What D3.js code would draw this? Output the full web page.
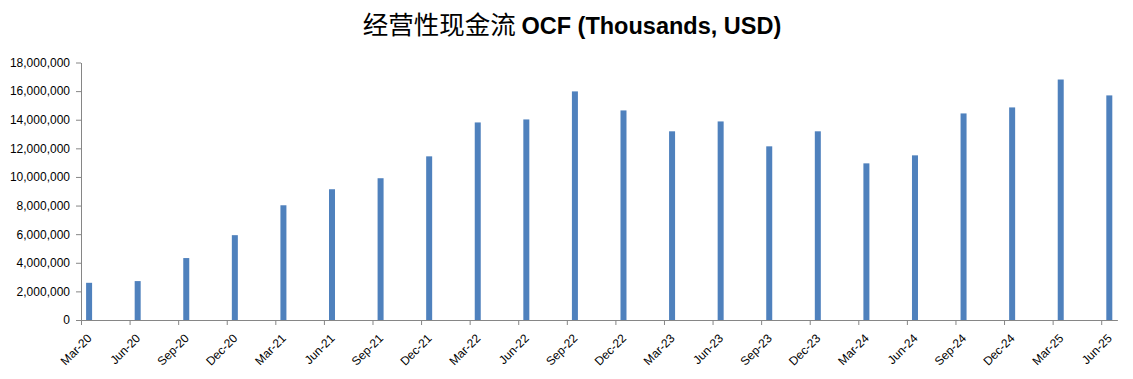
<!DOCTYPE html>
<html>
<head>
<meta charset="utf-8">
<script src="https://cdn.jsdelivr.net/npm/d3@7"></script>
<style>
  html, body { margin: 0; padding: 0; background: #fff; }
  svg { display: block; }
  .axis text { font-family: "Liberation Sans", Arial, sans-serif; font-size: 12px; fill: #000; }
  .axis path, .axis line { stroke: #868686; }
</style>
</head>
<body>
<svg id="chart" width="1133" height="379"></svg>
<script>
// quarter-end labels shown on the date axis
const quarters = ['Mar-20','Jun-20','Sep-20','Dec-20','Mar-21','Jun-21','Sep-21','Dec-21',
  'Mar-22','Jun-22','Sep-22','Dec-22','Mar-23','Jun-23','Sep-23','Dec-23',
  'Mar-24','Jun-24','Sep-24','Dec-24','Mar-25','Jun-25'];

// operating cash flow, thousands USD
const ocf = [2600000, 2720000, 4330000, 5930000, 8020000, 9140000, 9910000, 11440000,
  13810000, 14020000, 15980000, 14650000, 13190000, 13880000, 12140000, 13190000,
  10950000, 11510000, 14440000, 14860000, 16810000, 15700000];

const yTicks = [0, 2000000, 4000000, 6000000, 8000000, 10000000, 12000000, 14000000, 16000000, 18000000];

const svg = d3.select('#chart');

// date axis in months: each quarter sits 3 months apart, bar centred in its month slot
const nMonths = (quarters.length - 1) * 3 + 1;
const x = d3.scaleLinear().domain([0, nMonths]).range([81, 1117.4]);
const y = d3.scaleLinear().domain([0, 18000000]).range([320, 62.5]);

const barW = 6;

// title
const title = svg.append('text')
  .attr('x', 572)
  .attr('y', 34)
  .attr('text-anchor', 'middle');
title.append('tspan')
  .style('font-family', '"Noto Sans CJK SC", sans-serif')
  .style('font-size', '25.5px')
  .text('经营性现金流 ');
title.append('tspan')
  .style('font-family', '"Liberation Sans", Arial, sans-serif')
  .style('font-weight', 'bold')
  .style('font-size', '23.5px')
  .text('OCF (Thousands, USD)');

// bars
svg.append('g').selectAll('rect')
  .data(ocf)
  .join('rect')
  .attr('x', (d, i) => x(i * 3 + 0.5) - barW / 2)
  .attr('y', d => y(d))
  .attr('width', barW)
  .attr('height', d => y(0) - y(d))
  .attr('fill', '#4F81BD');

// y axis
svg.append('g')
  .attr('class', 'axis')
  .attr('transform', `translate(${x(0)},0)`)
  .call(d3.axisLeft(y).tickValues(yTicks).tickFormat(d3.format(',')).tickSize(5).tickSizeOuter(0).tickPadding(6));

// x axis
const xAxis = svg.append('g')
  .attr('class', 'axis')
  .attr('transform', `translate(0,${y(0)})`)
  .call(d3.axisBottom(x)
    .tickValues(quarters.map((q, i) => i * 3))
    .tickFormat(v => quarters[v / 3])
    .tickSize(5)
    .tickSizeOuter(0));

xAxis.selectAll('text')
  .attr('text-anchor', 'end')
  .attr('dy', null)
  .attr('y', 0)
  .attr('x', 0)
  .attr('transform', 'translate(11,19) rotate(-45)');
</script>
</body>
</html>
